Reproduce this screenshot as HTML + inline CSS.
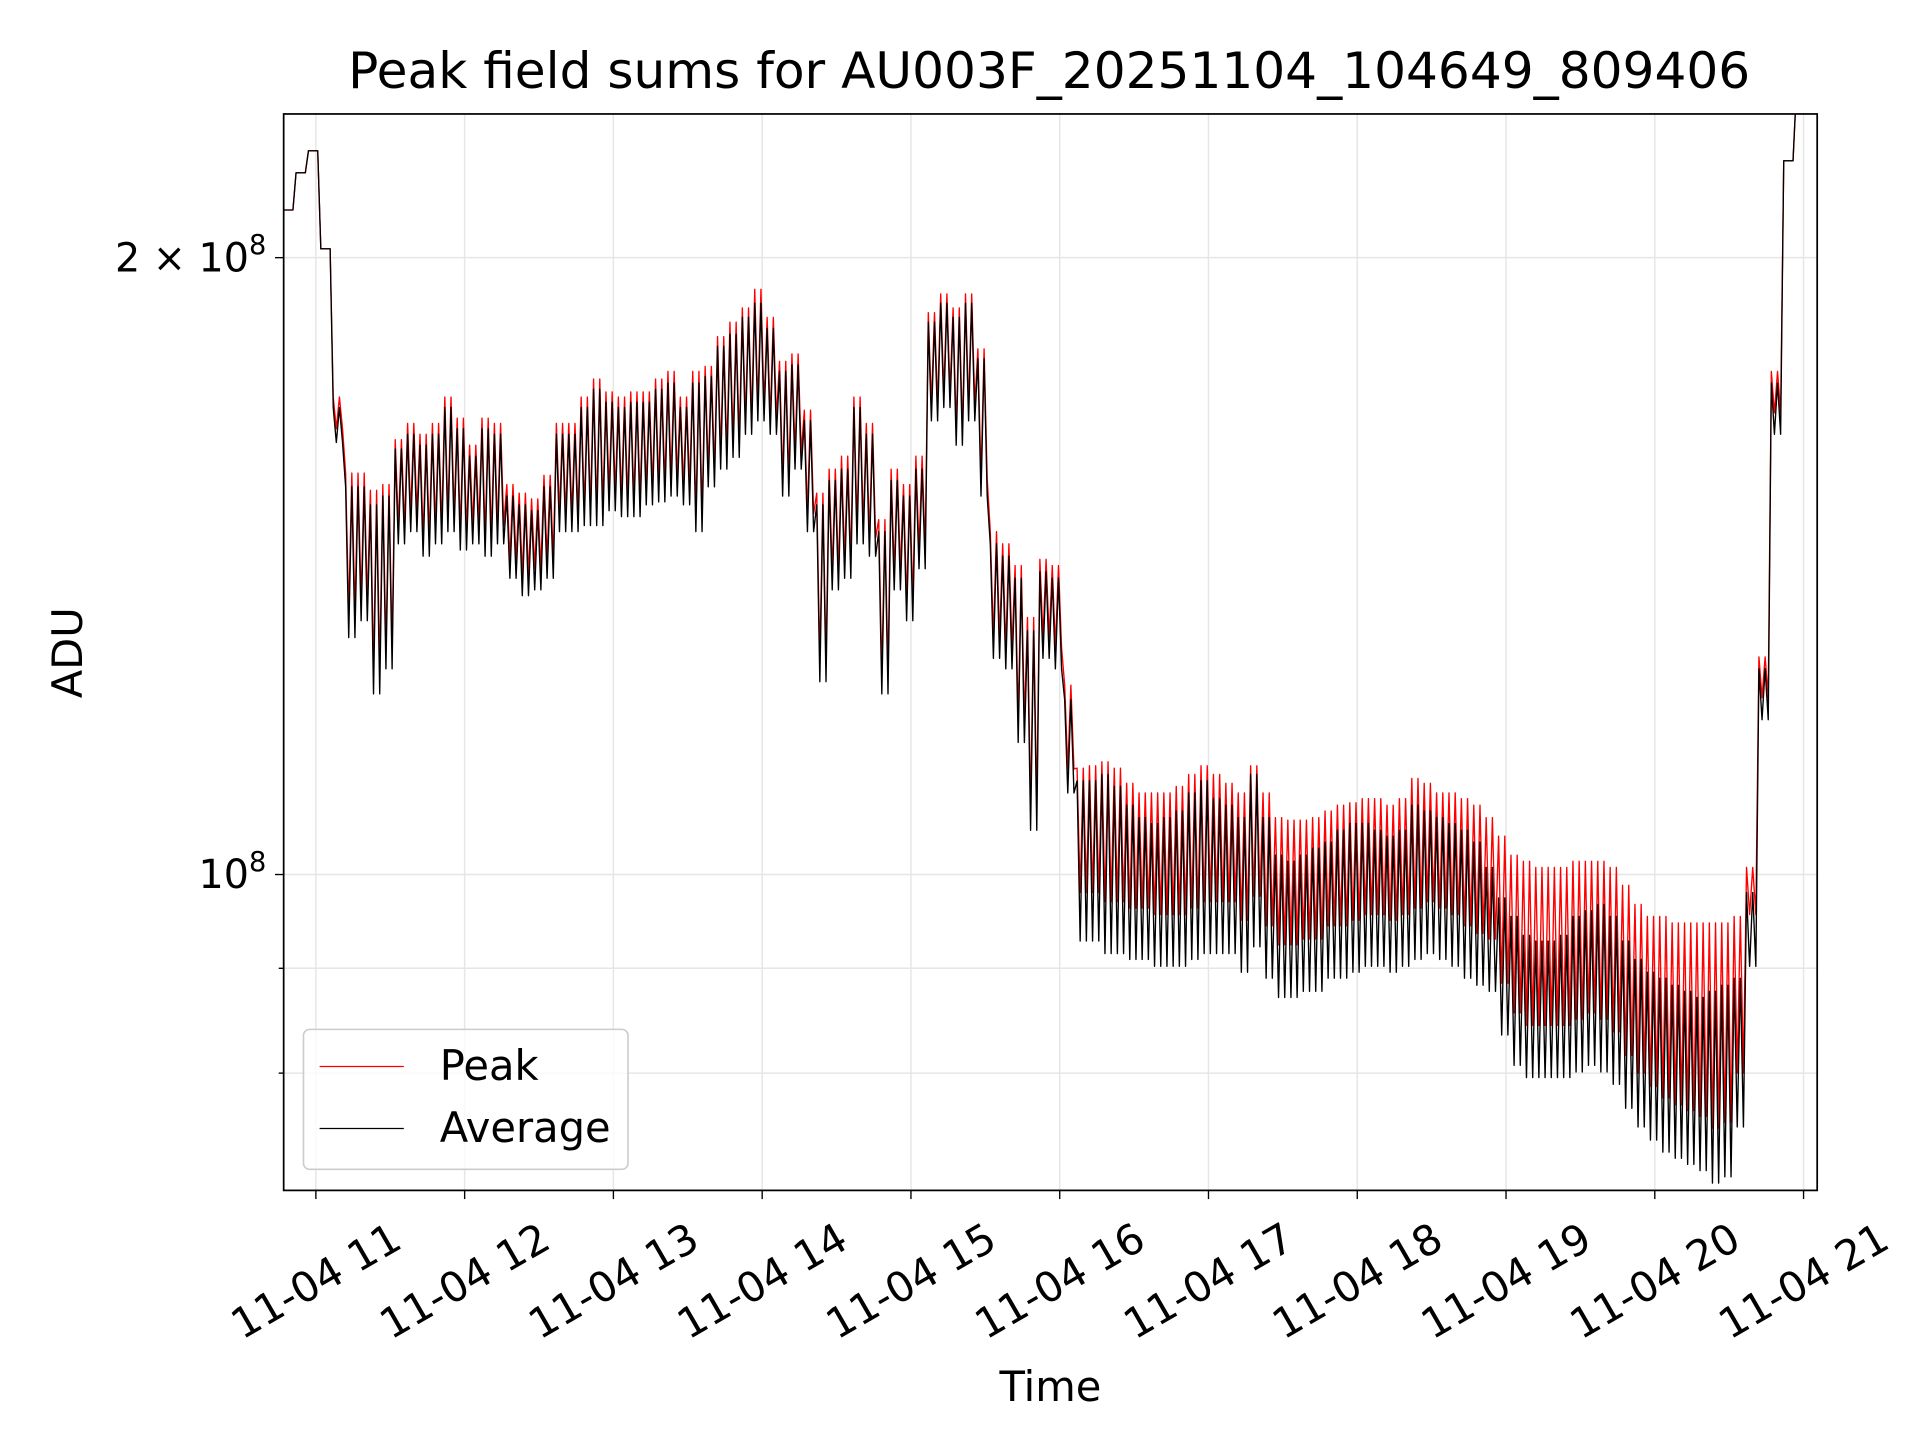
<!DOCTYPE html>
<html><head><meta charset="utf-8"><style>
html,body{margin:0;padding:0;background:#fff;}
svg{display:block;}
text{font-family:"DejaVu Sans","Liberation Sans",sans-serif;fill:#000;}
</style></head><body>
<svg id="chart" width="1920" height="1440" viewBox="0 0 1550 1162.5" preserveAspectRatio="none" xmlns="http://www.w3.org/2000/svg">
<defs><clipPath id="plotclip"><rect x="229" y="92" width="1238" height="869"/></clipPath></defs>
<rect x="0" y="0" width="1550" height="1162.5" fill="#fff"/>
<g id="grid"></g>
<g id="series" clip-path="url(#plotclip)"></g>
<rect x="229" y="92" width="1238" height="869" fill="none" stroke="#000" stroke-width="1.4"/>
<g id="axes"></g>
<text x="847" y="71" font-size="40.5" text-anchor="middle">Peak field sums for AU003F_20251104_104649_809406</text>
<text x="848" y="1131" font-size="33.6" text-anchor="middle">Time</text>
<text x="0" y="0" font-size="33.6" text-anchor="middle" transform="translate(66,527) rotate(-90)">ADU</text>
<g>
<rect x="245" y="831" width="262" height="113" rx="5" fill="#fff" fill-opacity="0.8" stroke="#cccccc" stroke-width="1.3"/>
<line x1="258" y1="861" x2="326" y2="861" stroke="#ff0000" stroke-width="1"/>
<text x="355" y="872" font-size="33.6">Peak</text>
<line x1="258" y1="911" x2="326" y2="911" stroke="#000" stroke-width="1"/>
<text x="355" y="922" font-size="33.6">Average</text>
</g>
</svg>
<script>
// Data in millions of ADU; bins every 5 minutes starting 10:47
const startMinute = -13; // minutes relative to 11:00
const stepMinutes = 5;
const avgHi = [211,220,225.5,202,169,154.6,154.6,151.5,153,161.3,164,162,164,169,165,160,165,164,153,151.5,150.5,154.6,164,164,169,172.5,170,169,170,170,172.5,173.7,169,173.7,175,181,183.5,187,190,184.7,176,177.3,166.5,151.5,155.7,157.7,169,164,147,155.7,153,157.7,186,190,187,190,178.5,145,143,139.5,131.5,140.5,139.5,121.7,
111.1,111.1,111.9,110.4,108.1,106.6,105.9,106.6,107.4,109.6,111.1,108.9,108.1,106.6,111.9,106.6,102.2,101.5,102.2,103,103.7,105.1,105.9,105.9,105.1,104.4,105.1,108.1,107.4,106.6,105.9,105.1,103.7,100.8,97.4,95.4,93.4,92.8,92.8,93.4,95.4,96,96.7,95.4,92.8,90.9,89.6,89,88.3,87.7,87.1,87.7,88.3,89,98,126,173.7,223,240];
const avgLo = [211,220,225.5,202,162.5,130.5,133,122.5,126,145,147,143,145,147,144,145,143,145,139.5,136.8,137.7,139.5,147,147,148,148,150.5,149.5,149.5,151.5,152,153,151.5,147,154.6,157.7,159.8,164,166.5,164,153,157.7,147,124.2,137.7,139.5,145,143,122.5,137.7,133,141,166.5,169,162,166.5,153,127.5,126,116,105.1,127.5,126,109.6,
92.8,92.8,91.5,91.5,90.9,90.9,90.2,90.2,90.2,90.9,91.5,91.5,91.5,89.6,92.2,89,87.1,87.1,87.7,87.7,89,89,89.6,90.2,90.2,89.6,90.2,90.9,91.5,90.9,90.2,89,88.3,87.7,83.5,80.7,79.6,79.6,79.6,79.6,80.1,80.7,80.1,79,76.9,75.3,74.2,73.2,72.7,72.2,71.7,70.7,71.2,75.3,90.2,119,164,223,240];
const peakHi = [211,220,225.5,202,171,157,157,154,155,163,166,164,166,171,167,162,167,166,155,153.5,152.5,156.6,166,166,171,174.5,172,171,172,172,174.5,176,171,176,177,183,186,189,193,187,178,179.5,168.5,153.5,157.7,160,171,166,149,157.7,155,160,188,192,189,192,180.5,147,145,141.5,133.5,142.5,141.5,123.7,
112.7,113,113.5,112.7,110.8,109.6,109.6,109.6,110.4,111.9,113,111.9,110.8,109.6,113,109.6,106.6,106.3,106.3,106.6,107.4,108.1,108.4,108.9,108.9,108.1,108.9,111.4,110.8,109.6,109.6,108.9,108.1,106.6,104.4,102.2,101.5,100.8,100.8,100.8,101.5,101.5,101.5,100.8,98.8,96.7,95.4,95.4,94.7,94.7,94.7,94.7,94.7,95.4,100.8,127.7,176,223,240];
const peakLo = [211,220,225.5,202,165,134,136,126,129,148,150,146,148,150,147,148,146,148,142.5,140,141,142.5,150,150,151,151,153.5,152.5,152.5,154.5,155,156,154.5,150,157.6,160.7,162.8,167,169.5,167,156,160.7,150,127.2,140.7,142.5,148,146,125.5,140.7,136,144,169.5,172,165,169.5,156,130.5,129,119,108,130.5,129,112.6,
98,98,97,97,96.3,96.3,95.6,95.6,95.6,96.3,97,97,97,95,97.6,94.4,92.4,92.4,93,93,94.4,94.4,95,95.6,95.6,95,95.6,96.3,97,96.3,95.6,94.4,93.6,93,88.5,85.6,84.4,84.4,84.4,84.4,85,85.6,85,83.8,81.6,80,78.8,77.8,77.2,76.7,76.2,75.2,75.7,80,95.6,122,168,223,240];
const xTickLabels = ["11-04 11","11-04 12","11-04 13","11-04 14","11-04 15","11-04 16","11-04 17","11-04 18","11-04 19","11-04 20","11-04 21"];
const yMajorTicks = [100, 200];
const yMinorTicks = [80, 90];

const NS = "http://www.w3.org/2000/svg";
const PL = 229, PR = 1467, PT = 92, PB = 961;
const CYCLES_PER_BIN = 2;
function xScale(minFrom11) { return 255 + minFrom11 * (120.1 / 60); }
function yScale(m) { return 706 - 498 * Math.log2(m / 100); }
function mk(tag, attrs, parent) {
  const el = document.createElementNS(NS, tag);
  for (const k in attrs) el.setAttribute(k, attrs[k]);
  parent.appendChild(el);
  return el;
}
const grid = document.getElementById('grid');
const axes = document.getElementById('axes');
const series = document.getElementById('series');

xTickLabels.forEach((lab, i) => {
  const x = xScale(i * 60);
  const g = mk('line', {x1: x, y1: PT, x2: x, y2: PB, stroke: '#e6e6e6', 'stroke-width': 1.2}, grid);
  
  
  const t = mk('line', {x1: x, y1: PB, x2: x, y2: PB + 7, stroke: '#000', 'stroke-width': 1.1}, axes);
  
  
  const tx = mk('text', {x: 0, y: 0, 'font-size': 33.6, 'text-anchor': 'middle', 'dominant-baseline': 'central', transform: 'translate(' + x + ',1034) rotate(-30)'}, axes);
  tx.textContent = lab;
  
  
});
yMajorTicks.concat(yMinorTicks).forEach(v => {
  const y = yScale(v);
  const major = yMajorTicks.indexOf(v) >= 0;
  const g = mk('line', {x1: PL, y1: y, x2: PR, y2: y, stroke: '#e6e6e6', 'stroke-width': 1.2}, grid);
  
  
  const t = mk('line', {x1: PL - (major ? 7 : 4), y1: y, x2: PL, y2: y, stroke: '#000', 'stroke-width': 1.1}, axes);
  
  
});
function yLabel(v, y) {
  const t = mk('text', {x: 215, y: y + 11, 'font-size': 32, 'text-anchor': 'end'}, axes);
  
  
  const mant = v / 100;
  const base = document.createElementNS(NS, 'tspan');
  base.textContent = (mant === 1 ? '' : mant + ' \u00d7 ') + '10';
  t.appendChild(base);
  const sup = document.createElementNS(NS, 'tspan');
  sup.setAttribute('dy', '-14');
  sup.setAttribute('font-size', '22');
  sup.textContent = '8';
  t.appendChild(sup);
}
yMajorTicks.forEach(v => yLabel(v, yScale(v)));

function drawSeries(hi, lo, color, name, width) {
  let d = '';
  const sub = stepMinutes / CYCLES_PER_BIN;
  for (let i = 0; i < hi.length; i++) {
    const t0 = startMinute + i * stepMinutes;
    for (let c = 0; c < CYCLES_PER_BIN; c++) {
      const x1 = xScale(t0 + c * sub), x2 = xScale(t0 + c * sub + sub / 2);
      d += (i === 0 && c === 0 ? 'M' : 'L') + x1.toFixed(2) + ',' + yScale(hi[i]).toFixed(2);
      d += 'L' + x2.toFixed(2) + ',' + yScale(lo[i]).toFixed(2);
    }
  }
  const p = mk('path', {d: d, fill: 'none', stroke: color, 'stroke-width': width, 'stroke-linejoin': 'round'}, series);
  
  
}
drawSeries(peakHi, peakLo, '#ff0000', 'peak-series', 1.1);
drawSeries(avgHi, avgLo, '#000000', 'average-series', 1.1);
</script>
</body></html>
